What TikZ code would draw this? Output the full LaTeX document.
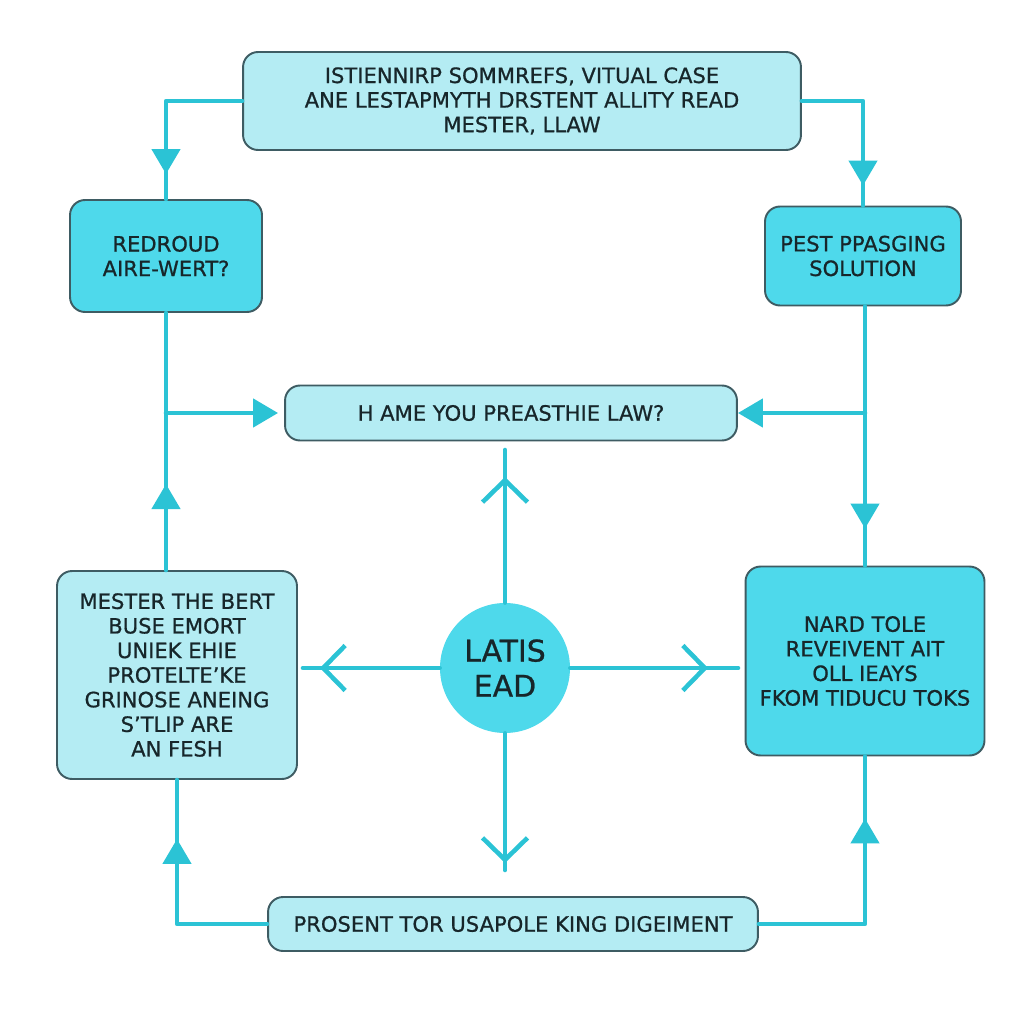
\documentclass[tikz,border=0pt]{standalone}
\usepackage{fontspec}
\setmainfont{DejaVu Sans}[FakeBold=0.8]
\usetikzlibrary{arrows.meta,decorations.markings}

\definecolor{linecyan}{HTML}{2BC3D5}
\definecolor{palebox}{HTML}{B4ECF3}
\definecolor{brightbox}{HTML}{4ED9EB}
\definecolor{boxedge}{HTML}{3E5C63}
\definecolor{inkdark}{HTML}{17262A}

\begin{document}
\begin{tikzpicture}[x=0.02cm, y=-0.02cm, line join=round, line cap=round,
    font=\fontsize{12}{14}\selectfont,
    pale/.style={draw=boxedge, line width=1.1pt, fill=palebox, rounded corners=0.3cm,
      text=inkdark, align=center, inner sep=0pt},
    bright/.style={pale, fill=brightbox},
    link/.style={draw=linecyan, line width=2.6pt},
    tri at/.style={postaction={decorate}, decoration={markings,
      mark=at position #1 with {\arrow[linecyan]{Triangle[length=0.5cm, width=0.56cm]}}}},
    barb at/.style={postaction={decorate}, decoration={markings,
      mark=at position #1 with {\arrow[linecyan]{Straight Barb[length=0.44cm, width=0.9cm]}}}}]
  \useasboundingbox (0,0) rectangle (1024,1024);
  \fill[white] (0,0) rectangle (1024,1024);

  % boxes
  \node[pale, minimum width=11.16cm, minimum height=1.96cm] (top) at (522,101)
    {ISTIENNIRP SOMMREFS, VITUAL CASE\\ANE LESTAPMYTH DRSTENT ALLITY READ\\MESTER, LLAW};
  \node[bright, minimum width=3.84cm, minimum height=2.24cm] (redroud) at (166,256)
    {REDROUD\\AIRE-WERT?};
  \node[bright, minimum width=3.92cm, minimum height=1.98cm] (pest) at (863,256)
    {PEST PPASGING\\SOLUTION};
  \node[pale, minimum width=9.04cm, minimum height=1.1cm] (ask) at (511,413)
    {H AME YOU PREASTHIE LAW?};
  \node[pale, minimum width=4.8cm, minimum height=4.16cm] (mester) at (177,675)
    {MESTER THE BERT\\BUSE EMORT\\UNIEK EHIE\\PROTELTE'KE\\GRINOSE ANEING\\S'TLIP ARE\\AN FESH};
  \node[bright, minimum width=4.78cm, minimum height=3.78cm] (nard) at (865,661)
    {NARD TOLE\\REVEIVENT AIT\\OLL IEAYS\\FKOM TIDUCU TOKS};
  \node[pale, minimum width=9.8cm, minimum height=1.08cm] (prosent) at (513,924)
    {PROSENT TOR USAPOLE KING DIGEIMENT};
  \node[circle, fill=brightbox, minimum size=2.6cm, inner sep=0pt, align=center, text=inkdark,
    font=\fontsize{17}{20}\selectfont] (hub) at (505,668) {LATIS\\EAD};

  % ends of the hub arrows
  \coordinate (hubN) at (505,450);
  \coordinate (hubS) at (505,870);
  \coordinate (hubW) at (303,668);
  \coordinate (hubE) at (738,668);

  % outer loop
  \draw[link, tri at=-0.5cm] (top.west) -| (redroud.north);
  \draw[link, tri at=-0.4cm] (top.east) -| (pest.north);
  \draw[link, tri at=1.72cm] (mester.north -| redroud.south) -- (redroud.south);
  \draw[link, -{Triangle[length=0.5cm, width=0.56cm]}, shorten >=0.12cm]
    (redroud.south |- ask.west) -- (ask.west);
  \draw[link, tri at=-0.74cm] (pest.south -| nard.north) -- (nard.north);
  \draw[link, -{Triangle[length=0.5cm, width=0.56cm]}]
    (nard.north |- ask.east) -- (ask.east);
  \draw[link, tri at=-1.18cm] (prosent.west) -| (mester.south);
  \draw[link, tri at=-1.24cm] (prosent.east) -| (nard.south);

  % hub arrows
  \draw[link, barb at=-0.54cm] (hub.north) -- (hubN);
  \draw[link, barb at=-0.14cm] (hub.south) -- (hubS);
  \draw[link, barb at=-0.34cm] (hub.west) -- (hubW);
  \draw[link, barb at=-0.6cm] (hub.east) -- (hubE);
\end{tikzpicture}
\end{document}
